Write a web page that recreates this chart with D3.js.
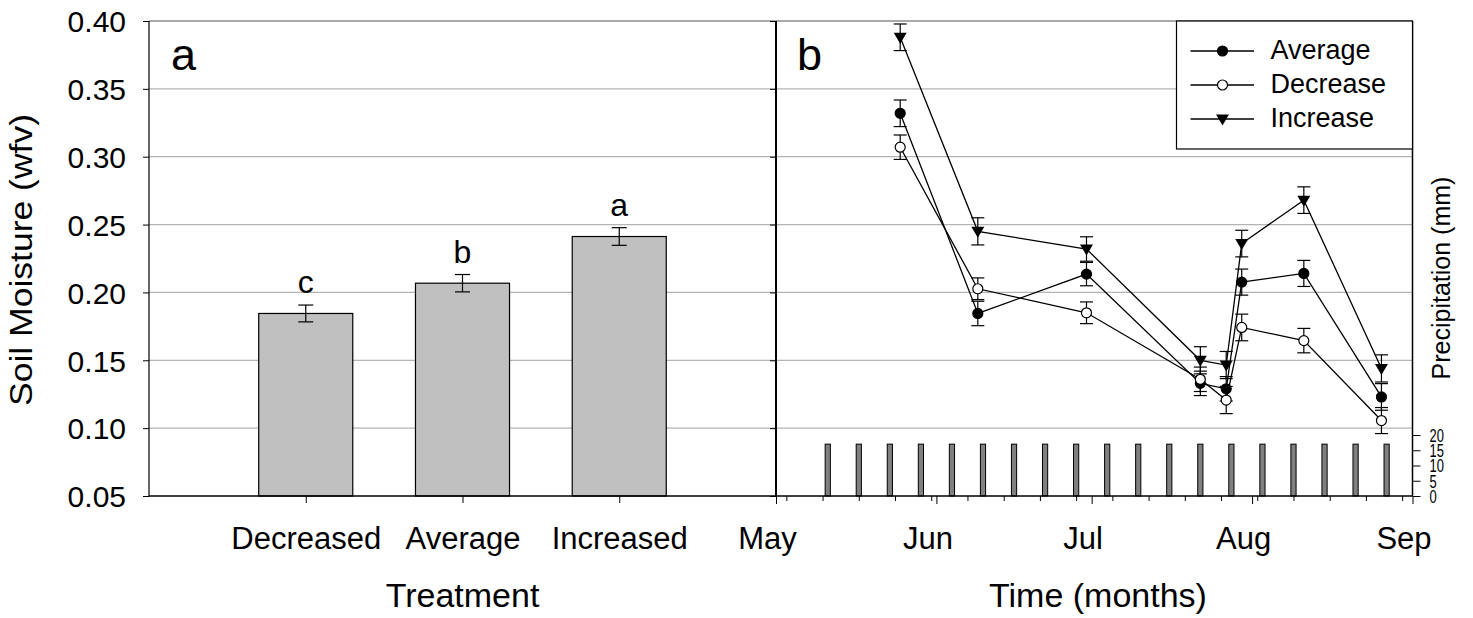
<!DOCTYPE html>
<html>
<head>
<meta charset="utf-8">
<script src="https://cdn.jsdelivr.net/npm/d3@7"></script>
<style>
  body { margin: 0; background: #fff; }
  text { font-family: Arial, "Liberation Sans", sans-serif; fill: #000; }
</style>
</head>
<body>
<svg id="chart" width="1473" height="618"></svg>
<script>
// ---- panel a : soil moisture by treatment ----
var treatments = ["Decreased", "Average", "Increased"];
var treatMeans = [0.1845, 0.2068, 0.2412];
var treatErrs = [0.0062, 0.0064, 0.0065];
var treatLetters = ["c", "b", "a"];

// ---- panel b : soil moisture through the season ----
var sampleDates = ["2009-05-25", "2009-06-09", "2009-06-30", "2009-07-22",
                   "2009-07-27", "2009-07-30", "2009-08-11", "2009-08-26"];
var avgMeans = [0.332, 0.1845, 0.2135, 0.133, 0.129, 0.2076, 0.214, 0.123];
var avgErrs  = [0.0098, 0.009, 0.0086, 0.009, 0.009, 0.0096, 0.0096, 0.0098];
var decMeans = [0.307, 0.2027, 0.185, 0.136, 0.1207, 0.1742, 0.1645, 0.1056];
var decErrs  = [0.009, 0.008, 0.008, 0.009, 0.01, 0.0098, 0.009, 0.0096];
var incMeans = [0.388, 0.245, 0.232, 0.150, 0.1465, 0.236, 0.268, 0.144];
var incErrs  = [0.0098, 0.01, 0.009, 0.01, 0.01, 0.0098, 0.0098, 0.01];

// precipitation events (mm)
var rainDates = ["2009-05-11", "2009-05-17", "2009-05-23", "2009-05-29", "2009-06-04",
                 "2009-06-10", "2009-06-16", "2009-06-22", "2009-06-28", "2009-07-04",
                 "2009-07-10", "2009-07-16", "2009-07-22", "2009-07-28", "2009-08-03",
                 "2009-08-09", "2009-08-15", "2009-08-21", "2009-08-27"];
var rainAmounts = [17, 17, 17, 17, 17, 17, 17, 17, 17, 17,
                   17, 17, 17, 17, 17, 17, 17, 17, 17];

// tick labels
var moistureTicks = [0.05, 0.10, 0.15, 0.20, 0.25, 0.30, 0.35, 0.40];
var rainTicks = [0, 5, 10, 15, 20];
var monthTicks = ["2009-05-01", "2009-06-01", "2009-07-01", "2009-08-01", "2009-09-01"];

var parse = d3.timeParse("%Y-%m-%d");
var svg = d3.select("#chart");

// layout
var plotTop = 21, plotBottom = 496, leftA = 149, mid = 776, rightB = 1412.5;

var y = d3.scaleLinear().domain([0.05, 0.40]).range([plotBottom, plotTop]);
var xa = d3.scalePoint().domain(treatments).range([leftA, mid]).padding(1);
var xb = d3.scaleTime().domain([parse("2009-05-01"), parse("2009-09-01")]).range([mid, rightB]);
var yr = d3.scaleLinear().domain([0, 20]).range([plotBottom, 435]);

// gridlines
svg.append("g").selectAll("line")
  .data(moistureTicks.slice(1, -1))
  .enter().append("line")
  .attr("x1", leftA).attr("x2", rightB)
  .attr("y1", function(d) { return y(d); })
  .attr("y2", function(d) { return y(d); })
  .style("stroke", "#b4b4b4")
  .style("stroke-width", 1.2);

// ---- panel a bars ----
var bw = xa.step() * 0.6;
var treatData = treatments.map(function(t, i) {
  return { name: t, mean: treatMeans[i], err: treatErrs[i], letter: treatLetters[i] };
});

svg.append("g").selectAll("rect")
  .data(treatData)
  .enter().append("rect")
  .attr("x", function(d) { return xa(d.name) - bw / 2; })
  .attr("y", function(d) { return y(d.mean); })
  .attr("width", bw)
  .attr("height", function(d) { return plotBottom - y(d.mean); })
  .style("fill", "#c0c0c0")
  .style("stroke", "#000")
  .style("stroke-width", 1.2);

// error bars
function errorBar(g, cx, v, e, cap) {
  g.append("line").attr("x1", cx).attr("x2", cx)
    .attr("y1", y(v - e)).attr("y2", y(v + e));
  g.append("line").attr("x1", cx - cap).attr("x2", cx + cap)
    .attr("y1", y(v - e)).attr("y2", y(v - e));
  g.append("line").attr("x1", cx - cap).attr("x2", cx + cap)
    .attr("y1", y(v + e)).attr("y2", y(v + e));
}

var errA = svg.append("g").style("stroke", "#000").style("stroke-width", 1.2);
treatData.forEach(function(d) { errorBar(errA, xa(d.name), d.mean, d.err, 7.5); });

svg.append("g").selectAll("text")
  .data(treatData)
  .enter().append("text")
  .attr("x", function(d) { return xa(d.name); })
  .attr("y", function(d) { return y(d.mean + d.err) - 12; })
  .attr("text-anchor", "middle")
  .style("font-size", "32px")
  .text(function(d) { return d.letter; });

// ---- panel b precipitation bars ----
svg.append("g").selectAll("rect")
  .data(rainDates.map(function(d, i) { return { date: parse(d), mm: rainAmounts[i] }; }))
  .enter().append("rect")
  .attr("x", function(d) { return xb(d.date) - 2.6; })
  .attr("y", function(d) { return yr(d.mm); })
  .attr("width", 5.2)
  .attr("height", function(d) { return yr(0) - yr(d.mm); })
  .style("fill", "#808080")
  .style("stroke", "#000")
  .style("stroke-width", 1);

// ---- panel b lines ----
var series = [
  { name: "Average", means: avgMeans, errs: avgErrs, marker: "filled" },
  { name: "Decrease", means: decMeans, errs: decErrs, marker: "open" },
  { name: "Increase", means: incMeans, errs: incErrs, marker: "tri" }
];
series.forEach(function(s) {
  s.values = sampleDates.map(function(d, i) {
    return { date: parse(d), v: s.means[i], e: s.errs[i] };
  });
});

var line = d3.line()
  .x(function(d) { return xb(d.date); })
  .y(function(d) { return y(d.v); });

svg.append("g").selectAll("path")
  .data(series)
  .enter().append("path")
  .attr("d", function(s) { return line(s.values); })
  .style("fill", "none")
  .style("stroke", "#000")
  .style("stroke-width", 1.3);

var errB = svg.append("g").style("stroke", "#000").style("stroke-width", 1.2);
series.forEach(function(s) {
  s.values.forEach(function(d) { errorBar(errB, xb(d.date), d.v, d.e, 6.5); });
});

function drawMarker(g, kind, cx, cy) {
  if (kind === "tri") {
    g.append("path")
      .attr("d", "M" + (cx - 6.5) + "," + (cy - 4.5) + "L" + (cx + 6.5) + "," + (cy - 4.5) +
                 "L" + cx + "," + (cy + 6.5) + "Z")
      .style("fill", "#000");
  } else {
    g.append("circle")
      .attr("cx", cx).attr("cy", cy).attr("r", 5)
      .style("fill", kind === "filled" ? "#000" : "#fff")
      .style("stroke", "#000")
      .style("stroke-width", 1.2);
  }
}

var marks = svg.append("g");
series.forEach(function(s) {
  s.values.forEach(function(d) { drawMarker(marks, s.marker, xb(d.date), y(d.v)); });
});

// ---- frames ----
var frame = svg.append("g").style("stroke", "#000");
frame.append("line").attr("x1", leftA).attr("x2", rightB).attr("y1", plotTop).attr("y2", plotTop)
  .style("stroke", "#555").style("stroke-width", 1.2);
frame.append("line").attr("x1", leftA).attr("x2", rightB).attr("y1", plotBottom).attr("y2", plotBottom)
  .style("stroke-width", 1.5);
frame.append("line").attr("x1", leftA).attr("x2", leftA).attr("y1", plotTop).attr("y2", plotBottom)
  .style("stroke-width", 1.2);
frame.append("line").attr("x1", mid).attr("x2", mid).attr("y1", plotTop).attr("y2", plotBottom)
  .style("stroke-width", 2);
frame.append("line").attr("x1", rightB).attr("x2", rightB).attr("y1", plotTop).attr("y2", plotBottom)
  .style("stroke-width", 1.5);

// ---- axes ----
var yAxis = svg.append("g")
  .attr("transform", "translate(" + leftA + ",0)")
  .call(d3.axisLeft(y).tickValues(moistureTicks).tickSize(6).tickPadding(17)
        .tickFormat(d3.format(".2f")));
yAxis.select(".domain").remove();
yAxis.selectAll("text").style("font-size", "30px").attr("dy", "0.36em");

var midAxis = svg.append("g")
  .attr("transform", "translate(" + mid + ",0)")
  .call(d3.axisLeft(y).tickValues(moistureTicks).tickSize(6).tickFormat(""));
midAxis.select(".domain").remove();

var xAxisA = svg.append("g")
  .attr("transform", "translate(0," + plotBottom + ")")
  .call(d3.axisBottom(xa).tickSize(7).tickPadding(24));
xAxisA.select(".domain").remove();
xAxisA.selectAll("text").style("font-size", "31px");

var weekTicks = d3.timeDay.range(parse("2009-05-03"), parse("2009-09-01"), 7);
var weekAxis = svg.append("g")
  .attr("transform", "translate(0," + plotBottom + ")")
  .call(d3.axisBottom(xb).tickValues(weekTicks).tickSize(5).tickFormat(""));
weekAxis.select(".domain").remove();

var monthAxis = svg.append("g")
  .attr("transform", "translate(0," + plotBottom + ")")
  .call(d3.axisBottom(xb).tickValues(monthTicks.map(parse)).tickSize(8).tickPadding(23)
        .tickFormat(d3.timeFormat("%b")));
monthAxis.select(".domain").remove();
monthAxis.selectAll("text").style("font-size", "31px").attr("dx", -9);

var rainAxis = svg.append("g")
  .attr("transform", "translate(" + rightB + ",0)")
  .call(d3.axisRight(yr).tickValues(rainTicks).tickSize(8));
rainAxis.select(".domain").remove();
rainAxis.selectAll("text")
  .attr("x", 0).attr("dy", "0.36em")
  .attr("transform", "translate(17,0) scale(0.72,1)")
  .style("font-size", "18px");

// ---- titles ----
svg.append("text")
  .attr("transform", "translate(32,260) rotate(-90)")
  .attr("text-anchor", "middle")
  .attr("textLength", 292)
  .attr("lengthAdjust", "spacingAndGlyphs")
  .style("font-size", "31px")
  .text("Soil Moisture (wfv)");

svg.append("text")
  .attr("transform", "translate(1450,278) rotate(-90)")
  .attr("text-anchor", "middle")
  .style("font-size", "25px")
  .text("Precipitation (mm)");

svg.append("text")
  .attr("x", (leftA + mid) / 2).attr("y", 607)
  .attr("text-anchor", "middle")
  .style("font-size", "34px")
  .text("Treatment");

svg.append("text")
  .attr("x", 1098).attr("y", 607)
  .attr("text-anchor", "middle")
  .style("font-size", "34px")
  .text("Time (months)");

svg.append("text").attr("x", 171).attr("y", 70).style("font-size", "45px").text("a");
svg.append("text").attr("x", 797).attr("y", 70).style("font-size", "45px").text("b");

// ---- legend ----
var legend = svg.append("g");
legend.append("rect")
  .attr("x", 1176.5).attr("y", plotTop)
  .attr("width", rightB - 1176.5).attr("height", 128)
  .style("fill", "#fff").style("stroke", "#000").style("stroke-width", 1.2);

series.forEach(function(s, i) {
  var ly = 51 + i * 34;
  legend.append("line")
    .attr("x1", 1190.5).attr("x2", 1254).attr("y1", ly).attr("y2", ly)
    .style("stroke", "#000").style("stroke-width", 1.3);
  drawMarker(legend, s.marker, 1222.5, ly);
  legend.append("text")
    .attr("x", 1270.5).attr("y", ly).attr("dy", "0.31em")
    .style("font-size", "27px")
    .text(s.name);
});
</script>
</body>
</html>
